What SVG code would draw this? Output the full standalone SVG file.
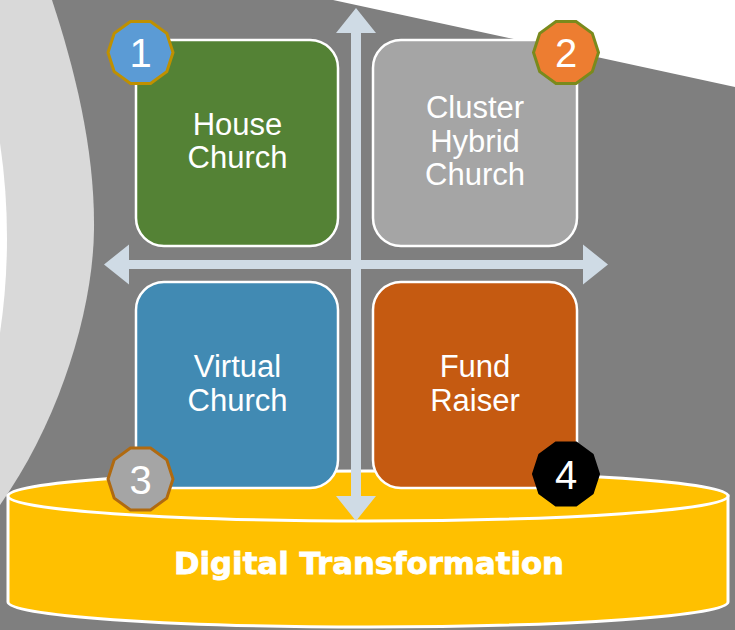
<svg xmlns="http://www.w3.org/2000/svg" width="735" height="630" viewBox="0 0 735 630">
  <style>
    .box { stroke: #ffffff; stroke-width: 2.5; }
    .lbl { font-family: "Liberation Sans", Arial, sans-serif; font-size: 31px; fill: #ffffff; text-anchor: middle; }
    .num { font-family: "Liberation Sans", Arial, sans-serif; font-size: 40px; fill: #ffffff; text-anchor: middle; }
    .axis { fill: #cfdbe5; }
    .cyl { fill: #ffc000; stroke: #ffffff; stroke-width: 3; }
    .badge { stroke-width: 3; }
  </style>
  <defs>
    <polygon id="deca" points="32.5,0 26.29,19.11 10.04,30.91 -10.04,30.91 -26.29,19.11 -32.5,0 -26.29,-19.11 -10.04,-30.91 10.04,-30.91 26.29,-19.11"/>
  </defs>

  <!-- background -->
  <rect x="0" y="0" width="735" height="630" fill="#7f7f7f"/>
  <path d="M0,0 L52,0 C75,70 95,150 94,230 C93,310 60,420 0,505 Z" fill="#d9d9d9"/>
  <path d="M0,143 Q14,238 0,333 Z" fill="#ffffff"/>
  <polygon points="333,0 735,0 735,87" fill="#ffffff"/>

  <!-- base cylinder -->
  <g id="digital-transformation">
    <path class="cyl" d="M8,496 L8,602 A360,25 0 0 0 728,602 L728,496 Z"/>
    <ellipse class="cyl" cx="368" cy="496" rx="360" ry="25"/>
    <text x="369" y="574" font-family="DejaVu Sans, Verdana, sans-serif" font-weight="bold" font-size="30" fill="#ffffff" stroke="#ffffff" stroke-width="0.8" text-anchor="middle" textLength="390" lengthAdjust="spacingAndGlyphs">Digital Transformation</text>
  </g>

  <!-- connectors: axes -->
  <g id="connectors">
    <polygon class="axis" points="356,8 376,33 361,33 361,496 376,496 356,521 336,496 351,496 351,33 336,33"/>
    <polygon class="axis" points="104,264.5 129,244.5 129,260 583,260 583,244.5 608,264.5 583,284.5 583,269 129,269 129,284.5"/>
  </g>

  <g id="house-church">
    <rect class="box" x="136" y="40" width="202" height="206" rx="28" fill="#548235"/>
    <text class="lbl" x="237.5" y="135">House</text>
    <text class="lbl" x="237.5" y="168">Church</text>
  </g>

  <g id="cluster-hybrid-church">
    <rect class="box" x="373" y="40" width="204" height="206" rx="28" fill="#a5a5a5"/>
    <text class="lbl" x="475" y="118">Cluster</text>
    <text class="lbl" x="475" y="152">Hybrid</text>
    <text class="lbl" x="475" y="185">Church</text>
  </g>

  <g id="virtual-church">
    <rect class="box" x="136" y="282" width="202" height="206" rx="28" fill="#418ab3"/>
    <text class="lbl" x="237.5" y="377">Virtual</text>
    <text class="lbl" x="237.5" y="411">Church</text>
  </g>

  <g id="fund-raiser">
    <rect class="box" x="373" y="282" width="204" height="206" rx="28" fill="#c55a11"/>
    <text class="lbl" x="475" y="377">Fund</text>
    <text class="lbl" x="475" y="411">Raiser</text>
  </g>

  <g id="badge-1">
    <use href="#deca" class="badge" transform="translate(140.5,52.5)" fill="#5b9bd5" stroke="#bf9000"/>
    <text class="num" x="140.5" y="67">1</text>
  </g>
  <g id="badge-2">
    <use href="#deca" class="badge" transform="translate(566,52.5)" fill="#ed7d31" stroke="#7a8a1c"/>
    <text class="num" x="566" y="67">2</text>
  </g>
  <g id="badge-3">
    <use href="#deca" class="badge" transform="translate(140.5,479)" fill="#a5a5a5" stroke="#b06a10"/>
    <text class="num" x="140.5" y="493.5">3</text>
  </g>
  <g id="badge-4">
    <use href="#deca" class="badge" transform="translate(566,474)" fill="#000000" stroke="#000000"/>
    <text class="num" x="566" y="488.5">4</text>
  </g>
</svg>
